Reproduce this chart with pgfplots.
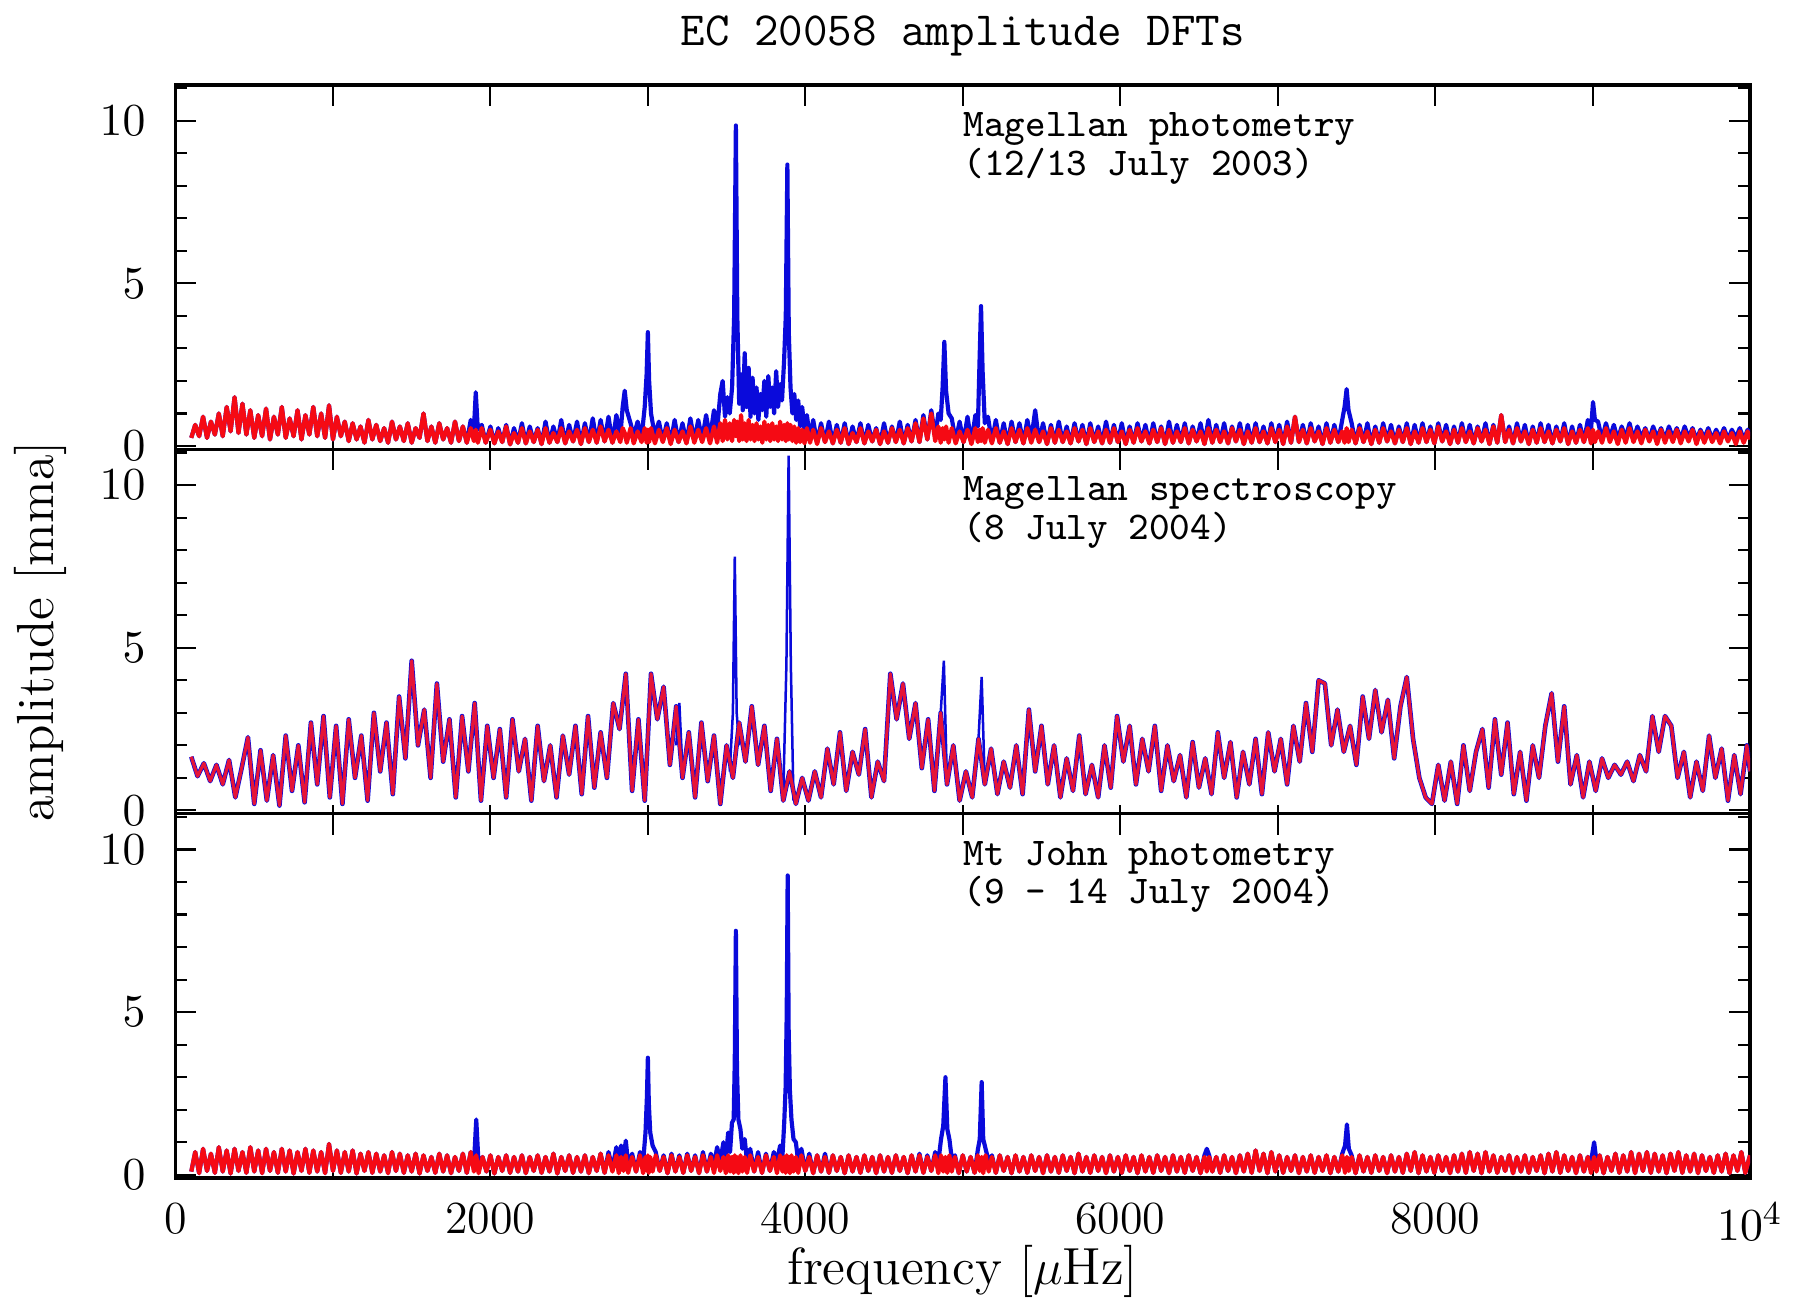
\documentclass[border=0pt]{standalone}
\usepackage{fontspec}
\usepackage{pgfplots}
\usepackage{pgfplotstable}
\pgfplotsset{compat=1.18}
\definecolor{pblue}{rgb}{0.04,0.04,0.86}
\definecolor{pred}{rgb}{0.96,0.04,0.08}
\definecolor{mred}{rgb}{0.90,0.08,0.22}

\pgfplotstableread{
x b r
100 0.25 0.25
125 0.65 0.65
150 0.30 0.30
175 0.90 0.90
200 0.25 0.25
225 0.75 0.75
250 0.35 0.35
275 1.00 1.00
300 0.30 0.30
325 1.20 1.20
350 0.45 0.45
375 1.50 1.50
400 0.40 0.40
425 1.30 1.30
450 0.35 0.35
475 1.10 1.10
500 0.25 0.25
525 0.95 0.95
550 0.30 0.30
575 1.15 1.15
600 0.20 0.20
625 0.90 0.90
650 0.35 0.35
675 1.20 1.20
700 0.25 0.25
725 0.85 0.85
750 0.30 0.30
775 1.10 1.10
800 0.20 0.20
825 0.95 0.95
850 0.35 0.35
875 1.20 1.20
900 0.30 0.30
925 1.00 1.00
950 0.25 0.25
975 1.25 1.25
1000 0.20 0.20
1025 0.90 0.90
1050 0.30 0.30
1075 0.75 0.75
1100 0.15 0.15
1125 0.70 0.70
1150 0.20 0.20
1175 0.60 0.60
1200 0.10 0.10
1225 0.80 0.80
1250 0.20 0.20
1275 0.65 0.65
1300 0.15 0.15
1325 0.55 0.55
1350 0.10 0.10
1375 0.75 0.75
1400 0.20 0.20
1425 0.60 0.60
1450 0.15 0.15
1475 0.70 0.70
1500 0.10 0.10
1525 0.55 0.55
1550 0.25 0.25
1575 1.00 1.00
1600 0.15 0.15
1625 0.60 0.60
1650 0.10 0.10
1675 0.70 0.70
1700 0.20 0.20
1725 0.55 0.55
1750 0.10 0.10
1775 0.75 0.75
1800 0.15 0.15
1825 0.60 0.60
1850 0.10 0.10
1875 0.80 0.55
1895 0.50 0.15
1907 1.65 0.50
1920 0.50 0.10
1945 0.65 0.55
1970 0.10 0.10
2000 0.60 0.50
2025 0.08 0.08
2050 0.55 0.45
2075 0.12 0.12
2100 0.65 0.60
2125 0.05 0.05
2150 0.55 0.40
2175 0.10 0.10
2200 0.70 0.55
2225 0.08 0.08
2250 0.60 0.45
2275 0.12 0.12
2300 0.55 0.50
2325 0.06 0.06
2350 0.75 0.55
2375 0.10 0.10
2400 0.60 0.40
2425 0.12 0.12
2450 0.80 0.55
2475 0.08 0.08
2500 0.65 0.45
2525 0.14 0.14
2550 0.75 0.50
2575 0.06 0.06
2600 0.70 0.55
2625 0.12 0.12
2650 0.85 0.50
2675 0.10 0.10
2700 0.80 0.60
2725 0.14 0.14
2750 0.90 0.50
2775 0.10 0.10
2800 0.95 0.45
2825 0.30 0.12
2840 1.20 0.55
2853 1.70 0.40
2866 1.10 0.10
2890 0.70 0.55
2910 0.30 0.08
2935 0.75 0.45
2960 0.25 0.12
2980 1.20 0.55
2992 2.20 0.10
3000 3.50 0.50
3008 2.00 0.12
3020 1.00 0.55
3045 0.30 0.08
3070 0.75 0.50
3095 0.15 0.12
3120 0.70 0.55
3145 0.10 0.06
3170 0.80 0.50
3195 0.12 0.12
3220 0.70 0.45
3245 0.10 0.08
3270 0.85 0.60
3295 0.15 0.10
3320 0.80 0.50
3345 0.20 0.12
3370 0.95 0.55
3395 0.25 0.08
3420 1.10 0.60
3440 0.50 0.10
3460 1.60 0.70
3475 2.00 0.15
3490 0.90 0.80
3505 1.50 0.20
3520 1.00 0.70
3535 1.80 0.15
3548 4.00 0.80
3559 9.85 0.30
3568 4.00 0.75
3580 1.30 0.15
3592 2.20 0.95
3603 1.10 0.20
3615 2.85 0.70
3627 1.20 0.15
3640 2.40 0.80
3652 0.90 0.20
3665 2.10 0.65
3677 1.00 0.15
3690 1.80 0.70
3702 0.80 0.20
3715 1.60 0.60
3727 1.10 0.10
3740 2.00 0.75
3752 0.90 0.20
3765 2.15 0.65
3777 1.20 0.15
3790 1.80 0.70
3802 1.00 0.20
3815 2.30 0.60
3827 1.20 0.15
3840 1.90 0.75
3852 1.40 0.20
3865 2.60 0.65
3876 4.00 0.15
3886 8.65 0.70
3895 3.50 0.20
3906 1.80 0.65
3918 1.00 0.15
3930 1.60 0.60
3942 0.80 0.10
3955 1.40 0.55
3967 0.60 0.12
3980 1.20 0.50
3995 0.50 0.08
4010 0.95 0.55
4030 0.20 0.10
4050 0.80 0.50
4075 0.10 0.06
4100 0.70 0.55
4125 0.12 0.12
4150 0.75 0.45
4175 0.08 0.08
4200 0.65 0.50
4225 0.10 0.10
4250 0.70 0.55
4275 0.06 0.06
4300 0.60 0.40
4325 0.12 0.12
4350 0.70 0.55
4375 0.08 0.08
4400 0.65 0.45
4425 0.14 0.14
4450 0.55 0.50
4475 0.06 0.06
4500 0.70 0.45
4525 0.10 0.10
4550 0.60 0.55
4575 0.12 0.12
4600 0.75 0.50
4625 0.08 0.08
4650 0.65 0.55
4675 0.14 0.14
4700 0.80 0.70
4725 0.12 0.12
4750 0.95 0.85
4775 0.20 0.20
4800 1.10 1.00
4825 0.30 0.15
4845 1.00 0.60
4860 0.80 0.10
4872 1.80 0.55
4883 3.20 0.20
4894 1.70 0.60
4910 1.00 0.10
4930 0.85 0.55
4955 0.15 0.08
4980 0.75 0.45
5005 0.12 0.12
5030 0.90 0.50
5055 0.10 0.06
5080 0.95 0.55
5096 0.60 0.12
5106 2.50 0.50
5116 4.30 0.15
5126 2.30 0.55
5140 0.70 0.10
5160 0.90 0.50
5185 0.12 0.08
5210 0.80 0.55
5235 0.10 0.10
5260 0.70 0.45
5285 0.06 0.06
5310 0.75 0.55
5335 0.12 0.12
5360 0.70 0.50
5385 0.08 0.08
5410 0.80 0.55
5435 0.20 0.10
5460 1.10 0.50
5485 0.12 0.12
5510 0.70 0.45
5535 0.06 0.06
5560 0.65 0.55
5585 0.10 0.10
5610 0.75 0.50
5635 0.12 0.12
5660 0.60 0.45
5685 0.08 0.08
5710 0.70 0.55
5735 0.14 0.14
5760 0.65 0.50
5785 0.06 0.06
5810 0.70 0.55
5835 0.12 0.12
5860 0.60 0.45
5885 0.08 0.08
5910 0.75 0.50
5935 0.10 0.10
5960 0.65 0.55
5985 0.12 0.12
6010 0.70 0.45
6035 0.06 0.06
6060 0.60 0.50
6085 0.10 0.10
6110 0.70 0.55
6135 0.14 0.14
6160 0.65 0.45
6185 0.08 0.08
6210 0.70 0.50
6235 0.12 0.12
6260 0.60 0.55
6285 0.06 0.06
6310 0.75 0.50
6335 0.10 0.10
6360 0.65 0.45
6385 0.12 0.12
6410 0.70 0.55
6435 0.08 0.08
6460 0.60 0.50
6485 0.14 0.14
6510 0.70 0.45
6535 0.06 0.06
6560 0.80 0.55
6585 0.10 0.10
6610 0.65 0.50
6635 0.12 0.12
6660 0.70 0.45
6685 0.08 0.08
6710 0.60 0.55
6735 0.14 0.14
6760 0.70 0.50
6785 0.06 0.06
6810 0.65 0.45
6835 0.10 0.10
6860 0.70 0.55
6885 0.12 0.12
6910 0.60 0.45
6935 0.08 0.08
6960 0.70 0.55
6985 0.12 0.12
7010 0.65 0.50
7035 0.06 0.06
7060 0.75 0.60
7085 0.10 0.10
7110 0.90 0.90
7135 0.12 0.12
7160 0.65 0.50
7185 0.08 0.08
7210 0.70 0.55
7235 0.14 0.14
7260 0.60 0.45
7285 0.06 0.06
7310 0.70 0.55
7335 0.10 0.10
7360 0.65 0.50
7385 0.12 0.12
7410 0.80 0.45
7425 1.20 0.10
7438 1.75 0.55
7450 1.10 0.12
7470 0.70 0.50
7495 0.08 0.08
7520 0.65 0.55
7545 0.12 0.12
7570 0.70 0.45
7595 0.06 0.06
7620 0.60 0.50
7645 0.10 0.10
7670 0.70 0.55
7695 0.14 0.14
7720 0.65 0.45
7745 0.08 0.08
7770 0.60 0.50
7795 0.12 0.12
7820 0.70 0.55
7845 0.06 0.06
7870 0.65 0.45
7895 0.10 0.10
7920 0.70 0.55
7945 0.12 0.12
7970 0.60 0.50
7995 0.08 0.08
8020 0.70 0.60
8045 0.14 0.14
8070 0.65 0.45
8095 0.06 0.06
8120 0.60 0.50
8145 0.10 0.10
8170 0.70 0.55
8195 0.12 0.12
8220 0.65 0.45
8245 0.08 0.08
8270 0.60 0.55
8295 0.14 0.14
8320 0.70 0.50
8345 0.06 0.06
8370 0.65 0.60
8395 0.10 0.10
8420 0.95 0.95
8445 0.12 0.12
8470 0.60 0.50
8495 0.08 0.08
8520 0.70 0.55
8545 0.14 0.14
8570 0.65 0.45
8595 0.06 0.06
8620 0.60 0.50
8645 0.10 0.10
8670 0.70 0.55
8695 0.12 0.12
8720 0.65 0.45
8745 0.08 0.08
8770 0.60 0.50
8795 0.14 0.14
8820 0.70 0.55
8845 0.06 0.06
8870 0.60 0.45
8895 0.10 0.10
8920 0.65 0.50
8945 0.12 0.12
8970 0.80 0.55
8990 0.50 0.08
9003 1.35 0.50
9015 0.80 0.12
9035 0.75 0.45
9060 0.20 0.10
9085 0.70 0.55
9110 0.25 0.12
9135 0.65 0.45
9160 0.20 0.06
9185 0.60 0.50
9210 0.25 0.10
9235 0.70 0.55
9260 0.20 0.12
9285 0.60 0.45
9310 0.25 0.08
9335 0.55 0.50
9360 0.20 0.14
9385 0.60 0.45
9410 0.25 0.06
9435 0.55 0.50
9460 0.20 0.10
9485 0.60 0.45
9510 0.25 0.12
9535 0.55 0.50
9560 0.20 0.08
9585 0.60 0.45
9610 0.25 0.14
9635 0.55 0.50
9660 0.20 0.06
9685 0.50 0.45
9710 0.25 0.10
9735 0.55 0.45
9760 0.20 0.12
9785 0.50 0.40
9810 0.25 0.08
9835 0.55 0.45
9860 0.20 0.14
9885 0.50 0.40
9910 0.25 0.06
9935 0.55 0.45
9960 0.20 0.10
9985 0.50 0.45
10000 0.30 0.20
}\toptab

\pgfplotstableread{
x r
100 1.65
140 1.05
180 1.45
220 0.90
260 1.40
300 0.80
340 1.55
380 0.40
420 1.30
460 2.25
500 0.20
540 1.85
580 0.30
620 1.70
660 0.15
700 2.30
740 0.60
780 2.00
820 0.25
860 2.70
900 0.80
940 2.90
980 0.40
1020 2.60
1060 0.20
1100 2.80
1140 1.00
1180 2.30
1220 0.30
1260 3.00
1300 1.20
1340 2.70
1380 0.50
1420 3.50
1460 1.60
1500 4.60
1540 2.00
1580 3.10
1620 1.00
1660 3.90
1700 1.50
1740 2.80
1780 0.40
1820 2.90
1860 1.20
1900 3.30
1940 0.30
1980 2.60
2020 1.00
2060 2.50
2100 0.40
2140 2.80
2180 1.20
2220 2.20
2260 0.30
2300 2.60
2340 0.90
2380 2.00
2420 0.40
2460 2.30
2500 1.10
2540 2.60
2580 0.50
2620 2.90
2660 0.70
2700 2.40
2740 1.00
2780 3.30
2820 2.50
2860 4.20
2900 0.60
2940 2.80
2980 0.30
3020 4.20
3060 2.80
3100 3.80
3140 1.40
3180 3.20
3220 1.00
3260 2.40
3300 0.40
3340 2.70
3380 0.90
3420 2.30
3460 0.20
3500 2.00
3540 1.00
3580 2.70
3620 1.50
3660 3.20
3700 1.40
3740 2.60
3780 0.60
3820 2.20
3860 0.30
3900 1.20
3940 0.20
3980 1.00
4020 0.30
4060 1.20
4100 0.40
4140 1.90
4180 0.80
4220 2.40
4260 0.60
4300 1.80
4340 1.10
4380 2.50
4420 0.40
4460 1.50
4500 0.90
4540 4.20
4580 2.80
4620 3.90
4660 2.20
4700 3.30
4740 1.30
4780 2.80
4820 0.60
4860 3.00
4900 0.80
4940 2.00
4980 0.30
5020 1.20
5060 0.40
5100 2.20
5140 0.80
5180 1.90
5220 0.50
5260 1.50
5300 0.70
5340 2.00
5380 0.50
5420 3.10
5460 1.20
5500 2.60
5540 0.80
5580 2.00
5620 0.40
5660 1.60
5700 0.60
5740 2.30
5780 0.50
5820 1.40
5860 0.40
5900 2.00
5940 0.70
5980 2.90
6020 1.50
6060 2.60
6100 0.80
6140 2.20
6180 1.20
6220 2.60
6260 0.60
6300 2.00
6340 0.90
6380 1.70
6420 0.40
6460 2.10
6500 0.70
6540 1.60
6580 0.50
6620 2.40
6660 1.00
6700 2.10
6740 0.40
6780 1.80
6820 0.80
6860 2.20
6900 0.50
6940 2.40
6980 1.20
7020 2.20
7060 0.80
7100 2.60
7140 1.50
7180 3.30
7220 1.80
7260 4.00
7300 3.90
7340 2.00
7380 3.10
7420 1.80
7460 2.60
7500 1.40
7540 3.50
7580 2.20
7620 3.70
7660 2.40
7700 3.40
7740 1.60
7780 3.20
7820 4.10
7860 2.20
7900 1.00
7940 0.40
7980 0.20
8020 1.40
8060 0.30
8100 1.50
8140 0.20
8180 2.00
8220 0.60
8260 1.80
8300 2.50
8340 0.70
8380 2.80
8420 1.10
8460 2.70
8500 0.50
8540 1.80
8580 0.30
8620 2.00
8660 1.00
8700 2.60
8740 3.60
8780 1.50
8820 3.20
8860 0.80
8900 1.70
8940 0.40
8980 1.50
9020 0.60
9060 1.60
9100 1.00
9140 1.40
9180 1.10
9220 1.50
9260 0.90
9300 1.70
9340 1.20
9380 2.90
9420 1.80
9460 2.90
9500 2.60
9540 1.00
9580 1.80
9620 0.40
9660 1.50
9700 0.60
9740 2.30
9780 1.00
9820 1.90
9860 0.30
9900 1.70
9940 0.50
9980 2.00
10000 1.20
}\midtab

\pgfplotstableread{
x b r
100 0.10 0.10
125 0.70 0.70
150 0.05 0.05
175 0.80 0.80
200 0.12 0.12
225 0.65 0.65
250 0.06 0.06
275 0.85 0.85
300 0.10 0.10
325 0.75 0.75
350 0.04 0.04
375 0.80 0.80
400 0.12 0.12
425 0.70 0.70
450 0.06 0.06
475 0.85 0.85
500 0.10 0.10
525 0.75 0.75
550 0.05 0.05
575 0.80 0.80
600 0.12 0.12
625 0.70 0.70
650 0.06 0.06
675 0.80 0.80
700 0.10 0.10
725 0.75 0.75
750 0.04 0.04
775 0.70 0.70
800 0.12 0.12
825 0.80 0.80
850 0.06 0.06
875 0.75 0.75
900 0.10 0.10
925 0.70 0.70
950 0.05 0.05
975 0.95 0.95
1000 0.12 0.12
1025 0.75 0.75
1050 0.06 0.06
1075 0.70 0.70
1100 0.10 0.10
1125 0.75 0.75
1150 0.04 0.04
1175 0.65 0.65
1200 0.12 0.12
1225 0.70 0.70
1250 0.06 0.06
1275 0.65 0.65
1300 0.10 0.10
1325 0.60 0.60
1350 0.05 0.05
1375 0.70 0.70
1400 0.12 0.12
1425 0.65 0.65
1450 0.06 0.06
1475 0.60 0.60
1500 0.10 0.10
1525 0.65 0.65
1550 0.04 0.04
1575 0.60 0.60
1600 0.12 0.12
1625 0.55 0.55
1650 0.06 0.06
1675 0.65 0.65
1700 0.10 0.10
1725 0.60 0.60
1750 0.05 0.05
1775 0.55 0.55
1800 0.12 0.12
1825 0.65 0.65
1850 0.06 0.06
1875 0.70 0.70
1895 0.30 0.10
1910 1.70 0.60
1925 0.30 0.05
1950 0.55 0.55
1975 0.10 0.10
2000 0.60 0.60
2025 0.04 0.04
2050 0.55 0.55
2075 0.12 0.12
2100 0.60 0.60
2125 0.06 0.06
2150 0.55 0.55
2175 0.10 0.10
2200 0.60 0.60
2225 0.05 0.05
2250 0.55 0.55
2275 0.12 0.12
2300 0.60 0.60
2325 0.06 0.06
2350 0.55 0.55
2375 0.10 0.10
2400 0.65 0.65
2425 0.04 0.04
2450 0.55 0.55
2475 0.12 0.12
2500 0.60 0.60
2525 0.06 0.06
2550 0.55 0.55
2575 0.10 0.10
2600 0.60 0.60
2625 0.05 0.05
2650 0.55 0.55
2675 0.12 0.12
2700 0.65 0.65
2725 0.06 0.06
2750 0.70 0.60
2775 0.20 0.10
2800 0.85 0.60
2815 0.30 0.05
2830 0.90 0.55
2845 0.50 0.12
2860 1.05 0.60
2875 0.30 0.06
2900 0.65 0.55
2925 0.10 0.10
2950 0.70 0.60
2970 0.40 0.05
2985 1.30 0.55
2994 2.40 0.12
3000 3.60 0.60
3006 2.20 0.06
3015 1.30 0.55
3030 0.90 0.10
3050 0.70 0.60
3075 0.12 0.12
3100 0.60 0.55
3125 0.05 0.05
3150 0.65 0.60
3175 0.10 0.10
3200 0.60 0.55
3225 0.06 0.06
3250 0.65 0.60
3275 0.12 0.12
3300 0.60 0.55
3325 0.05 0.05
3350 0.70 0.60
3375 0.10 0.10
3400 0.65 0.55
3420 0.30 0.06
3440 0.85 0.60
3460 0.40 0.12
3480 1.00 0.55
3495 0.50 0.05
3510 1.30 0.60
3522 0.70 0.10
3534 1.60 0.55
3545 1.70 0.06
3552 3.50 0.60
3559 7.50 0.12
3566 3.20 0.55
3575 1.70 0.05
3588 1.40 0.60
3600 0.80 0.10
3615 1.10 0.55
3630 0.40 0.06
3650 0.80 0.60
3675 0.10 0.10
3700 0.70 0.55
3725 0.06 0.06
3750 0.65 0.60
3775 0.12 0.12
3800 0.70 0.55
3820 0.40 0.05
3840 0.90 0.60
3855 0.60 0.10
3866 1.60 0.55
3875 2.70 0.06
3882 5.00 0.60
3888 9.20 0.12
3894 4.50 0.55
3902 2.60 0.05
3912 1.70 0.60
3925 1.10 0.10
3940 1.00 0.55
3955 0.40 0.06
3975 0.80 0.60
4000 0.12 0.12
4025 0.65 0.55
4050 0.05 0.05
4075 0.60 0.60
4100 0.10 0.10
4125 0.65 0.55
4150 0.06 0.06
4175 0.60 0.60
4200 0.12 0.12
4225 0.55 0.55
4250 0.05 0.05
4275 0.60 0.60
4300 0.10 0.10
4325 0.55 0.55
4350 0.06 0.06
4375 0.60 0.60
4400 0.12 0.12
4425 0.55 0.55
4450 0.05 0.05
4475 0.60 0.60
4500 0.10 0.10
4525 0.55 0.55
4550 0.06 0.06
4575 0.60 0.60
4600 0.12 0.12
4625 0.55 0.55
4650 0.05 0.05
4675 0.60 0.60
4700 0.10 0.10
4725 0.65 0.60
4750 0.06 0.06
4775 0.60 0.55
4800 0.12 0.12
4825 0.70 0.60
4845 0.40 0.05
4862 1.10 0.60
4876 1.50 0.10
4890 3.00 0.55
4902 1.40 0.06
4915 1.10 0.60
4930 0.50 0.10
4950 0.60 0.55
4975 0.05 0.05
5000 0.60 0.60
5025 0.10 0.10
5050 0.55 0.55
5075 0.06 0.06
5095 0.75 0.60
5108 1.10 0.12
5120 2.85 0.55
5130 1.10 0.05
5145 0.80 0.60
5165 0.40 0.10
5185 0.60 0.55
5210 0.06 0.06
5235 0.60 0.60
5260 0.12 0.12
5285 0.55 0.55
5310 0.05 0.05
5335 0.60 0.60
5360 0.10 0.10
5385 0.55 0.55
5410 0.06 0.06
5435 0.60 0.60
5460 0.12 0.12
5485 0.55 0.55
5510 0.05 0.05
5535 0.60 0.60
5560 0.10 0.10
5585 0.55 0.55
5610 0.06 0.06
5635 0.60 0.60
5660 0.12 0.12
5685 0.55 0.55
5710 0.05 0.05
5735 0.65 0.65
5760 0.10 0.10
5785 0.55 0.55
5810 0.06 0.06
5835 0.60 0.60
5860 0.12 0.12
5885 0.55 0.55
5910 0.05 0.05
5935 0.60 0.60
5960 0.10 0.10
5985 0.55 0.55
6010 0.06 0.06
6035 0.60 0.60
6060 0.12 0.12
6085 0.55 0.55
6110 0.05 0.05
6135 0.60 0.60
6160 0.10 0.10
6185 0.55 0.55
6210 0.06 0.06
6235 0.60 0.60
6260 0.12 0.12
6285 0.55 0.55
6310 0.05 0.05
6335 0.60 0.60
6360 0.10 0.10
6385 0.55 0.55
6410 0.06 0.06
6435 0.60 0.60
6460 0.12 0.12
6485 0.55 0.55
6510 0.05 0.05
6535 0.60 0.55
6550 0.80 0.10
6565 0.60 0.55
6585 0.10 0.10
6610 0.55 0.55
6635 0.06 0.06
6660 0.60 0.60
6685 0.12 0.12
6710 0.55 0.55
6735 0.05 0.05
6760 0.60 0.60
6785 0.10 0.10
6810 0.65 0.65
6835 0.06 0.06
6860 0.75 0.75
6885 0.12 0.12
6910 0.65 0.65
6935 0.05 0.05
6960 0.70 0.70
6985 0.10 0.10
7010 0.60 0.60
7035 0.06 0.06
7060 0.55 0.55
7085 0.12 0.12
7110 0.60 0.60
7135 0.05 0.05
7160 0.55 0.55
7185 0.10 0.10
7210 0.60 0.60
7235 0.06 0.06
7260 0.55 0.55
7285 0.12 0.12
7310 0.60 0.60
7335 0.05 0.05
7360 0.55 0.55
7385 0.10 0.10
7410 0.65 0.60
7428 0.90 0.06
7440 1.55 0.55
7452 0.80 0.12
7470 0.60 0.55
7495 0.05 0.05
7520 0.60 0.60
7545 0.10 0.10
7570 0.55 0.55
7595 0.06 0.06
7620 0.60 0.60
7645 0.12 0.12
7670 0.55 0.55
7695 0.05 0.05
7720 0.60 0.60
7745 0.10 0.10
7770 0.55 0.55
7795 0.06 0.06
7820 0.65 0.65
7845 0.12 0.12
7870 0.70 0.70
7895 0.05 0.05
7920 0.60 0.60
7945 0.10 0.10
7970 0.55 0.55
7995 0.06 0.06
8020 0.60 0.60
8045 0.12 0.12
8070 0.55 0.55
8095 0.05 0.05
8120 0.60 0.60
8145 0.10 0.10
8170 0.65 0.65
8195 0.06 0.06
8220 0.70 0.70
8245 0.12 0.12
8270 0.65 0.65
8295 0.05 0.05
8320 0.70 0.70
8345 0.10 0.10
8370 0.60 0.60
8395 0.06 0.06
8420 0.55 0.55
8445 0.12 0.12
8470 0.60 0.60
8495 0.05 0.05
8520 0.55 0.55
8545 0.10 0.10
8570 0.60 0.60
8595 0.06 0.06
8620 0.55 0.55
8645 0.12 0.12
8670 0.60 0.60
8695 0.05 0.05
8720 0.65 0.65
8745 0.10 0.10
8770 0.70 0.70
8795 0.06 0.06
8820 0.60 0.60
8845 0.12 0.12
8870 0.55 0.55
8895 0.05 0.05
8920 0.60 0.60
8945 0.10 0.10
8970 0.55 0.55
8990 0.40 0.06
9010 1.00 0.55
9025 0.40 0.10
9045 0.60 0.60
9070 0.05 0.05
9095 0.55 0.55
9120 0.12 0.12
9145 0.65 0.65
9170 0.06 0.06
9195 0.60 0.60
9220 0.10 0.10
9245 0.70 0.70
9270 0.05 0.05
9295 0.65 0.65
9320 0.12 0.12
9345 0.70 0.70
9370 0.06 0.06
9395 0.65 0.65
9420 0.10 0.10
9445 0.60 0.60
9470 0.05 0.05
9495 0.65 0.65
9520 0.12 0.12
9545 0.70 0.70
9570 0.06 0.06
9595 0.60 0.60
9620 0.10 0.10
9645 0.65 0.65
9670 0.05 0.05
9695 0.60 0.60
9720 0.12 0.12
9745 0.55 0.55
9770 0.06 0.06
9795 0.60 0.60
9820 0.10 0.10
9845 0.65 0.65
9870 0.05 0.05
9895 0.60 0.60
9920 0.12 0.12
9945 0.70 0.70
9970 0.06 0.06
10000 0.60 0.60
}\bottab

\pgfplotsset{
  panel/.style={
    scale only axis, width=376.75pt, height=87.2pt,
    xmin=0, xmax=10000, ymin=-0.1, ymax=11.1,
    xtick={0,1000,...,10000}, xticklabels={}, xtick pos=upper,
    xticklabel pos=lower,
    extra x ticks={0,1000,...,10000},
    extra x tick style={xtick pos=lower, major tick length=2pt},
    ytick={0,5,10}, minor ytick={1,2,3,4,6,7,8,9,11},
    ytick pos=both, yticklabel pos=left,
    major tick length=5pt, minor tick length=2.8pt,
    tick align=inside,
    tick style={black, line width=0.5pt},
    axis line style={line width=0.8pt},
    yticklabel style={font=\fontsize{11}{11}\selectfont, inner sep=0pt, xshift=-7pt},
    xticklabel style={font=\fontsize{11}{11}\selectfont, yshift=-2.3pt},
    scaled x ticks=false,
    clip=true,
  },
  noiseline/.style={no markers, line join=round, line width=1.0pt},
}

\begin{document}
\begin{tikzpicture}
% bottom panel
\begin{axis}[panel, name=bot, at={(0,0)}, anchor=south west,
  extra x tick labels={0,,2000,,4000,,6000,,8000,,$10^4$}]
  \addplot[noiseline, color=pblue] table[x=x, y=b] {\bottab};
  \addplot[noiseline, color=pred] table[x=x, y=r] {\bottab};
\end{axis}
% middle panel
\begin{axis}[panel, name=mid, at={(bot.north west)}, anchor=south west,
  extra x tick labels={}]
  \addplot[no markers, line join=round, line width=1.1pt, color=pblue] table[x=x, y=r] {\midtab};
  \addplot[no markers, line width=0.6pt, color=pblue] coordinates {(3520,1.2) (3540,3.0) (3552,7.8) (3564,3.0) (3580,2.0)};
  \addplot[no markers, line width=0.6pt, color=pblue] coordinates {(3860,0.5) (3880,4.5) (3894,10.9) (3908,4.5) (3925,0.3)};
  \addplot[no markers, line width=0.6pt, color=pblue] coordinates {(4860,3.0) (4880,4.6) (4900,0.8)};
  \addplot[no markers, line width=0.6pt, color=pblue] coordinates {(5100,2.2) (5120,4.1) (5140,0.8)};
  \addplot[no markers, line width=0.6pt, color=pblue] coordinates {(3180,2.0) (3200,3.3) (3220,1.2)};
  \addplot[no markers, line join=round, line width=0.75pt, color=mred] table[x=x, y=r] {\midtab};
\end{axis}
% top panel
\begin{axis}[panel, name=top, at={(mid.north west)}, anchor=south west,
  extra x tick labels={}]
  \addplot[noiseline, color=pblue] table[x=x, y=b] {\toptab};
  \addplot[noiseline, color=pred] table[x=x, y=r] {\toptab};
\end{axis}

\def\annfont{\ttfamily\fontsize{9.4}{9.6}\selectfont}
\path (top.north) ++(0,9.3pt) node[anchor=base, font=\ttfamily\fontsize{11.4}{12}\selectfont] {EC 20058 amplitude DFTs};
\path (top.north) ++(0,-12.3pt) node[anchor=base west, inner sep=0pt, font=\annfont] {Magellan photometry};
\path (top.north) ++(0,-21.6pt) node[anchor=base west, inner sep=0pt, font=\annfont] {(12/13 July 2003)};
\path (mid.north) ++(0,-12.3pt) node[anchor=base west, inner sep=0pt, font=\annfont] {Magellan spectroscopy};
\path (mid.north) ++(0,-21.6pt) node[anchor=base west, inner sep=0pt, font=\annfont] {(8 July 2004)};
\path (bot.north) ++(0,-12.3pt) node[anchor=base west, inner sep=0pt, font=\annfont] {Mt John photometry};
\path (bot.north) ++(0,-21.6pt) node[anchor=base west, inner sep=0pt, font=\annfont] {(9 - 14 July 2004)};
\path (mid.west) ++(-32.4pt,0) node[rotate=90, font=\fontsize{12.5}{13}\selectfont] {amplitude [mma]};
\path (bot.south) ++(0,-25.5pt) node[anchor=base, font=\fontsize{12.5}{13}\selectfont] {frequency [$\mu$Hz]};

\pgfresetboundingbox
\path (bot.south west) ++(-42pt,-28.8pt) rectangle ++(430pt,310.7pt);
\end{tikzpicture}
\end{document}
